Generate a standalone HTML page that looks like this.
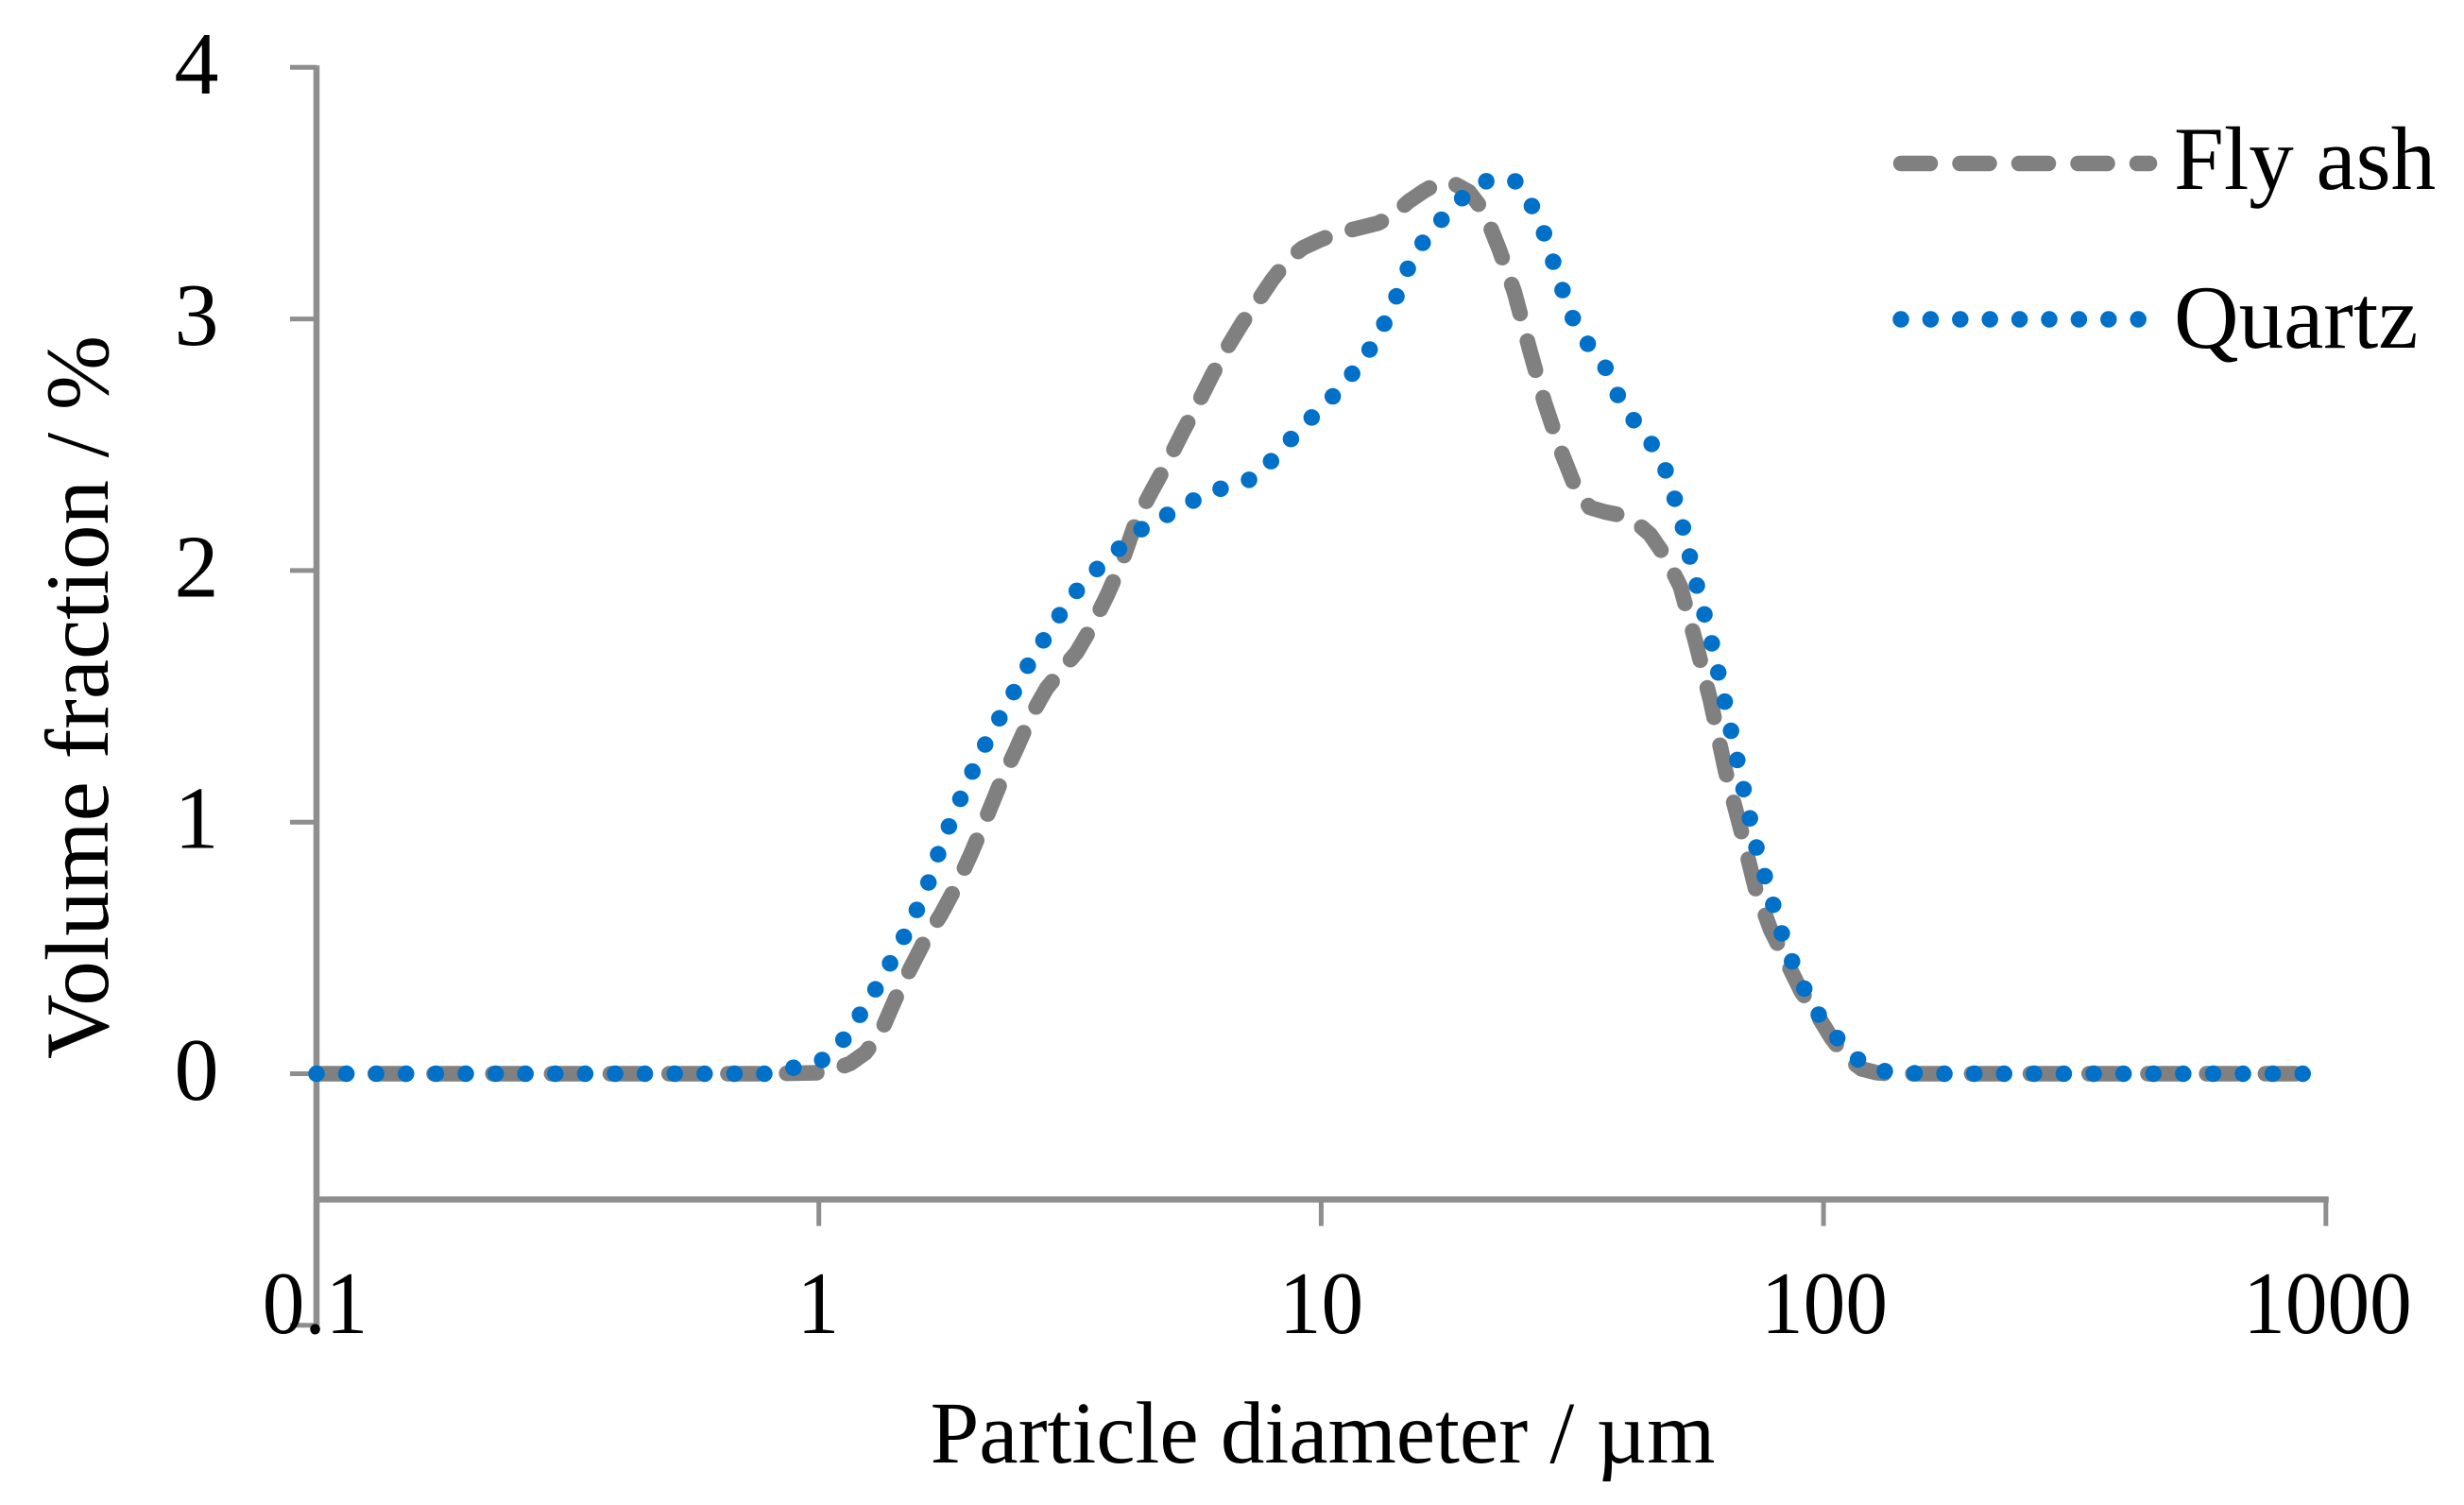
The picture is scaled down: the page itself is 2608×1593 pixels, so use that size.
<!DOCTYPE html>
<html lang="en">
<head>
<meta charset="utf-8">
<title>Particle size distribution</title>
<style>
html,body{margin:0;padding:0;background:#fff;}
svg{display:block;}
text{font-family:"Liberation Serif","Times New Roman",serif;fill:#000;font-size:94px;}
</style>
</head>
<body>
<svg id="chart" xmlns="http://www.w3.org/2000/svg" width="2608" height="1593" viewBox="0 0 2608 1593">
  <rect x="0" y="0" width="2608" height="1593" fill="#ffffff"/>
  <g id="axes"></g>
  <g id="ticklabels"></g>
  <g id="series"></g>
  <text transform="translate(114,738) rotate(-90)" text-anchor="middle" style="font-size:95px">Volume fraction / %</text>
  <text x="1400" y="1548" text-anchor="middle" style="font-size:93px">Particle diameter / µm</text>
  <g>
    <g>
      <line x1="2012" y1="173" x2="2275" y2="173" stroke="#808080" stroke-width="16.5" stroke-linecap="round" stroke-dasharray="31 31.5"/>
      <text x="2301" y="200" style="font-size:95px">Fly ash</text>
    </g>
    <g>
      <line x1="2012" y1="338" x2="2264" y2="338" stroke="#0070c8" stroke-width="17.5" stroke-linecap="round" stroke-dasharray="0 31.4"/>
      <text x="2301" y="368" style="font-size:95px">Quartz</text>
    </g>
  </g>
</svg>
<script>
const xTickValues = [0.1, 1, 10, 100, 1000];
const xTickLabels = ["0.1", "1", "10", "100", "1000"];
const yTickValues = [4, 3, 2, 1, 0, -1];
const yTickLabels = ["4", "3", "2", "1", "0", ""];
const diameters = [0.1,0.126,0.158,0.2,0.251,0.316,0.398,0.501,0.631,0.794,
1.0056,1.078,1.155,1.237,1.326,1.422,1.523,1.632,1.749,1.874,2.008,2.153,2.307,2.472,2.649,2.838,3.042,3.26,3.493,3.743,4.012,4.299,4.607,4.937,5.291,5.67,6.077,6.512,6.977,7.477,8.013,8.587,9.202,9.861,10.566,11.324,12.133,13.002,13.932,14.933,16.005,17.148,18.382,19.697,21.103,22.621,24.242,25.972,27.835,29.829,31.965,34.253,36.713,39.336,42.161,45.179,48.41,51.885,55.593,59.575,63.851,68.421,73.317,78.567,84.211,90.244,96.703,103.6,111,119,127.5,136.7,
158,200,251,316,398,501,631,794,935];
const flyAsh = [0,0,0,0,0,0,0,0,0,0,
0.004,0.018,0.041,0.083,0.161,0.3,0.42,0.537,0.632,0.743,0.874,1.017,1.163,1.291,1.426,1.531,1.604,1.675,1.777,1.899,2.034,2.206,2.319,2.428,2.548,2.66,2.78,2.889,2.987,3.071,3.159,3.235,3.283,3.311,3.336,3.351,3.366,3.381,3.415,3.467,3.508,3.542,3.538,3.505,3.426,3.276,3.107,2.882,2.668,2.488,2.338,2.251,2.233,2.221,2.195,2.143,2.056,1.936,1.719,1.482,1.201,0.972,0.732,0.57,0.45,0.328,0.24,0.143,0.064,0.019,0.004,0,
0,0,0,0,0,0,0,0,0];
const quartz = [0,0,0,0,0,0,0,0,0,0,
0.049,0.09,0.173,0.268,0.368,0.48,0.597,0.728,0.904,1.051,1.189,1.317,1.426,1.535,1.649,1.741,1.835,1.919,1.987,2.041,2.098,2.15,2.199,2.221,2.248,2.289,2.315,2.334,2.353,2.371,2.443,2.51,2.574,2.634,2.694,2.762,2.841,2.931,3.062,3.208,3.31,3.383,3.448,3.507,3.546,3.555,3.552,3.471,3.336,3.146,2.983,2.889,2.811,2.679,2.589,2.514,2.402,2.214,1.962,1.734,1.463,1.182,0.908,0.702,0.503,0.362,0.248,0.169,0.101,0.043,0.015,0.006,
0,0,0,0,0,0,0,0,0];
const xAxisCrossing = -0.5;

const NS = "http://www.w3.org/2000/svg";
const AXIS_COLOR = "#8e8e8e";
function xScale(d) { return 866.7 + 531.7 * Math.log10(d); }
function yScale(v) { return 1136.5 - 266.3 * v; }
function xLabelPos(d) { return 866 + 532.5 * Math.log10(d); }
function make(tag, attrs, parent) {
  const el = document.createElementNS(NS, tag);
  for (const k in attrs) el.setAttribute(k, attrs[k]);
  parent.appendChild(el);
  return el;
}
const axes = document.getElementById("axes");
const labels = document.getElementById("ticklabels");
const seriesGroup = document.getElementById("series");

const yAxisLine = make("line", {x1: xScale(0.1), x2: xScale(0.1), y1: yScale(4) - 2, y2: yScale(-1) + 2, stroke: AXIS_COLOR, "stroke-width": 6.5}, axes);


const xAxisLine = make("line", {x1: xScale(0.1), x2: xScale(1000) + 3, y1: yScale(xAxisCrossing), y2: yScale(xAxisCrossing), stroke: AXIS_COLOR, "stroke-width": 6.5}, axes);



yTickValues.forEach(function (v, i) {
  const y = yScale(v);
  const tick = make("line", {x1: 307, x2: xScale(0.1), y1: y, y2: y, stroke: AXIS_COLOR, "stroke-width": 5}, axes);
  
  
  if (yTickLabels[i]) {
    const t = make("text", {x: 208, y: y + 27.5, "text-anchor": "middle"}, labels);
    
    
    t.textContent = yTickLabels[i];
  }
});

xTickValues.forEach(function (d, i) {
  const x = xScale(d);
  const y0 = yScale(xAxisCrossing);
  const tick = make("line", {x1: x, x2: x, y1: y0, y2: y0 + 28, stroke: AXIS_COLOR, "stroke-width": 5}, axes);
  
  
  const t = make("text", {transform: "translate(" + xLabelPos(d) + ",1411) scale(0.95,1)", "text-anchor": "middle"}, labels);
  
  
  t.textContent = xTickLabels[i];
});

function linePath(values) {
  return values.map(function (v, i) {
    return (i ? "L" : "M") + xScale(diameters[i]).toFixed(1) + " " + yScale(v).toFixed(1);
  }).join(" ");
}
const flyLine = make("path", {d: linePath(flyAsh), fill: "none", stroke: "#808080", "stroke-width": 16.5, "stroke-linecap": "round", "stroke-linejoin": "round", "stroke-dasharray": "32 30.2"}, seriesGroup);


const quartzLine = make("path", {d: linePath(quartz), fill: "none", stroke: "#0070c8", "stroke-width": 17.5, "stroke-linecap": "round", "stroke-linejoin": "round", "stroke-dasharray": "0 31.6"}, seriesGroup);


</script>
</body>
</html>
